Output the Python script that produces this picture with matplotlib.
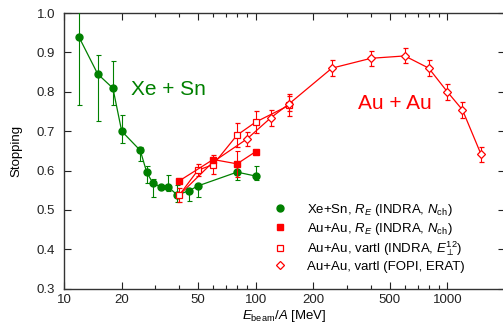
import numpy as np
import matplotlib
matplotlib.use("Agg")
import matplotlib.pyplot as plt
from matplotlib.ticker import FixedLocator, LogLocator, NullFormatter

plt.rcParams['font.family'] = ['Liberation Sans', 'DejaVu Sans']
plt.rcParams['mathtext.fontset'] = 'custom'
plt.rcParams['mathtext.rm'] = 'Liberation Sans'
plt.rcParams['mathtext.it'] = 'Liberation Sans:italic'

GREEN = '#008000'
RED = '#ff0000'

# Xe+Sn, R_E (INDRA)
xesn_e = [12, 15, 18, 20, 25, 27, 29, 32, 35, 39, 45, 50, 80, 100]
xesn_v = [0.938, 0.845, 0.809, 0.700, 0.651, 0.596, 0.569, 0.558, 0.558, 0.538, 0.549, 0.561, 0.596, 0.586]
xesn_lo = [0.172, 0.119, 0.043, 0.031, 0.026, 0.028, 0.035, 0.0, 0.010, 0.017, 0.026, 0.027, 0.019, 0.010]
xesn_hi = [0.172, 0.048, 0.069, 0.040, 0.010, 0.015, 0.010, 0.0, 0.030, 0.025, 0.0, 0.0, 0.025, 0.025]

# Au+Au, R_E (INDRA)
auau_re_e = [40, 60, 80, 100]
auau_re_v = [0.574, 0.628, 0.617, 0.648]
auau_re_err = [0.0, 0.0, 0.033, 0.0]

# Au+Au, vartl (INDRA)
auau_vi_e = [40, 50, 60, 80, 100, 150]
auau_vi_v = [0.538, 0.601, 0.615, 0.690, 0.723, 0.766]
auau_vi_err = [0.017, 0.015, 0.025, 0.030, 0.028, 0.028]

# Au+Au, vartl (FOPI); the first two entries only continue the curve
auau_vf_e = [40, 60, 90, 120, 150, 250, 400, 600, 800, 1000, 1200, 1500]
auau_vf_v = [0.538, 0.622, 0.680, 0.734, 0.770, 0.860, 0.885, 0.891, 0.860, 0.800, 0.754, 0.641]
auau_vf_err = [0.0, 0.0, 0.018, 0.020, 0.020, 0.020, 0.019, 0.019, 0.020, 0.020, 0.020, 0.020]

fig = plt.figure(figsize=(5.03, 3.25), dpi=100)
ax = fig.add_axes([64 / 503, 36.3 / 325, 441 / 503, 275.7 / 325])

eb = dict(capsize=1.8, elinewidth=0.8, capthick=0.8)

ax.errorbar(xesn_e, xesn_v, yerr=[xesn_lo, xesn_hi], color=GREEN, marker='o',
            ms=5, lw=0.9, **eb, zorder=3)
ax.errorbar(auau_vi_e, auau_vi_v, yerr=auau_vi_err, color=RED, marker='s', ms=4.5,
            mfc='white', mec=RED, mew=0.9, lw=0.9, **eb, zorder=4)
ax.errorbar(auau_vf_e[2:], auau_vf_v[2:], yerr=auau_vf_err[2:], color=RED, marker='D',
            ms=4, mfc='white', mec=RED, mew=0.9, ls='none', **eb, zorder=4)
ax.plot(auau_vf_e, auau_vf_v, color=RED, lw=0.9, zorder=3)
ax.errorbar(auau_re_e, auau_re_v, yerr=auau_re_err, color=RED, marker='s', ms=5,
            lw=0.9, **eb, zorder=5)

ax.text(34.9, 0.792, 'Xe + Sn', color=GREEN, fontsize=15, ha='center', va='baseline')
ax.text(535, 0.756, 'Au + Au', color=RED, fontsize=15, ha='center', va='baseline')

ax.set_xscale('log')
ax.set_xlim(10, 2000)
ax.set_ylim(0.3, 1.0)
ax.xaxis.set_major_locator(FixedLocator([10, 20, 50, 100, 200, 500, 1000, 2000]))
ax.xaxis.set_major_formatter(plt.FuncFormatter(lambda v, p: '' if v >= 2000 else f'{v:g}'))
ax.xaxis.set_minor_locator(LogLocator(base=10, subs=(3, 4, 6, 7, 8, 9)))
ax.xaxis.set_minor_formatter(NullFormatter())
ax.set_yticks(np.arange(0.3, 1.01, 0.1))
ax.yaxis.set_major_formatter(plt.FuncFormatter(lambda v, p: f'{v:.1f}'))

ax.tick_params(which='both', direction='in', top=True, right=True,
               labelsize=9.5, colors='#222222', width=0.8)
ax.tick_params(which='major', length=5)
ax.tick_params(which='minor', length=3)
ax.tick_params(axis='x', pad=4)
ax.tick_params(axis='y', pad=6.5)
for s in ax.spines.values():
    s.set_color('#333333')
    s.set_linewidth(1.0)

ax.set_ylabel('Stopping', fontsize=9.5, labelpad=10)
ax.set_xlabel(r'$E_{\rm beam}/A$ [MeV]', fontsize=9.5, labelpad=1)

h1 = ax.plot([], [], 'o', color=GREEN, ms=5)[0]
h2 = ax.plot([], [], 's', color=RED, ms=5)[0]
h3 = ax.plot([], [], 's', mfc='white', mec=RED, ms=4.5, mew=0.9)[0]
h4 = ax.plot([], [], 'D', mfc='white', mec=RED, ms=4, mew=0.9)[0]
ax.legend([h1, h2, h3, h4],
          [r'Xe+Sn, $R_E$ (INDRA, $N_{\rm ch}$)',
           r'Au+Au, $R_E$ (INDRA, $N_{\rm ch}$)',
           r'Au+Au, vartl (INDRA, $E_{\perp}^{12}$)',
           'Au+Au, vartl (FOPI, ERAT)'],
          loc='upper left', bbox_to_anchor=(272 / 503, 1 - 202 / 325),
          bbox_transform=fig.transFigure, frameon=False, fontsize=9.5,
          handlelength=1.2, handletextpad=1.45, labelspacing=0.2,
          borderpad=0, borderaxespad=0)

fig.savefig('out.png', dpi=100)
